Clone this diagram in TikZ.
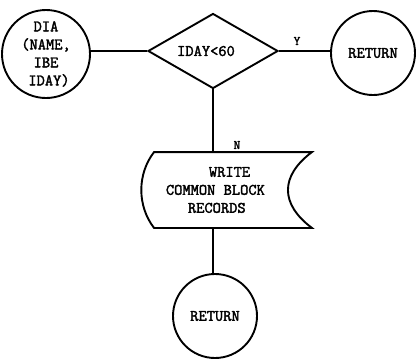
\documentclass[tikz,border=0pt]{standalone}
\usepackage{fontspec}
\usetikzlibrary{shapes.geometric}
\newfontfamily\typewr[FakeBold=2.2]{Latin Modern Mono}
\begin{document}
\begin{tikzpicture}[x=1pt,y=-1pt,
  line width=1.9pt,
  txt/.style={font=\typewr\fontsize{16}{18}\selectfont, inner sep=0pt},
  term/.style={circle, draw, minimum size=84pt, inner sep=0pt, txt, align=center},
  decision/.style={diamond, draw, minimum width=130pt, minimum height=75pt, inner sep=0pt, txt},
  lbl/.style={txt, font=\typewr\fontsize{13}{14}\selectfont}]
\useasboundingbox (0,0) rectangle (418,360);

% start terminal
\node[term, minimum size=88pt] (dia) at (46,54) {DIA\\(NAME,\\ IBE\\ \hspace*{6pt}IDAY)};

% decision
\node[decision] (dec) at (213,51) {\hspace*{-14pt}IDAY<60};

% return terminals
\node[term] (ret1) at (373,53) {RETURN};
\node[term] (ret2) at (215,316) {RETURN};

% stored-data box (convex left, concave right)
\node[minimum width=156pt, minimum height=74pt, inner sep=0pt] (w) at (233,190) {};
\draw (w.north west) -- (w.north east)
      .. controls +(-32,24) and +(-32,-24) .. (w.south east)
      -- (w.south west)
      .. controls +(-17,-22) and +(-17,22) .. (w.north west) -- cycle;
\node[txt, align=left, anchor=west] (wtxt) at (165,190)
  {\hspace*{43pt}WRITE\\COMMON BLOCK\\\hspace*{22pt}RECORDS};

% connectors
\draw (dec.west) -- (dec.west -| dia.east);
\draw (dec.east) -- (dec.east -| ret1.west);
\draw (dec.south) -- (dec.south |- w.north);
\draw (dec.south |- w.south) -- (dec.south |- ret2.north);

% branch labels
\node[lbl] (yes) at (297,41) {Y};
\node[lbl] (no) at (237,145) {N};
\end{tikzpicture}
\end{document}
